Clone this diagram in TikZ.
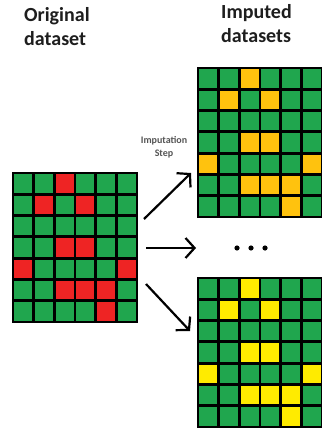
\documentclass[tikz,border=0pt]{standalone}
\usepackage{fontspec}
\setmainfont{Carlito}
\usetikzlibrary{arrows.meta}
\definecolor{cgreen}{HTML}{20A64E}
\definecolor{cred}{HTML}{EE2424}
\definecolor{corange}{HTML}{FFC20E}
\definecolor{cyellow}{HTML}{FFEB00}
\definecolor{ctext}{HTML}{1E1E1E}
\definecolor{cgray}{HTML}{555555}
\newcommand\DataGrid[4]{%
  \fill[cgreen] (#2,#3) rectangle ++(124,149);
  \foreach \c/\r in {2/0,1/1,3/1,2/3,3/3,0/4,5/4,2/5,3/5,4/5,4/6}
    \fill[#4] ({#2+\c*20.667},{#3+\r*21.286}) rectangle ++(20.667,21.286);
  \foreach \i in {0,...,6}
    \draw[gridline] ({#2+\i*20.667},#3) -- ++(0,149);
  \foreach \j in {0,...,7}
    \draw[gridline] (#2,{#3+\j*21.286}) -- ++(124,0);
  \node[inner sep=0, minimum width=124pt, minimum height=149pt, anchor=north west] (#1) at (#2,#3) {};
}
\begin{document}
\begin{tikzpicture}[x=1pt,y=-1pt,
  gridline/.style={line width=2.9pt, black, line cap=rect},
  arr/.style={line width=2.2pt, black, -{Straight Barb[length=9pt,width=20pt]}},
  title/.style={anchor=north west, align=left, inner sep=0, text=ctext, font=\fontsize{20}{24}\selectfont\bfseries}]
\useasboundingbox (0,0) rectangle (321,430);
\fill[white] (0,0) rectangle (321,430);
\node[title] (t1) at (24,7) {Original\\dataset};
\node[title] (t2) at (221,4) {Imputed\\datasets};
\node[align=center, inner sep=0, text=cgray, font=\fontsize{10}{13}\selectfont\bfseries] (step) at (164,147) {Imputation\\Step};
\DataGrid{orig}{13}{173}{cred}
\DataGrid{imp1}{198}{68}{corange}
\DataGrid{imp2}{198}{278}{cyellow}
\coordinate (u1) at (144,219);
\coordinate (u2) at (191,173);
\coordinate (m1) at (146,248);
\coordinate (m2) at (196,248);
\coordinate (d1) at (146,284);
\coordinate (d2) at (190,331);
\draw[arr] (u1) -- (u2);
\draw[arr] (m1) -- (m2);
\draw[arr] (d1) -- (d2);
\fill (237,248) circle (2.6);
\fill (251,248) circle (2.6);
\fill (265,248) circle (2.6);
\end{tikzpicture}
\end{document}
